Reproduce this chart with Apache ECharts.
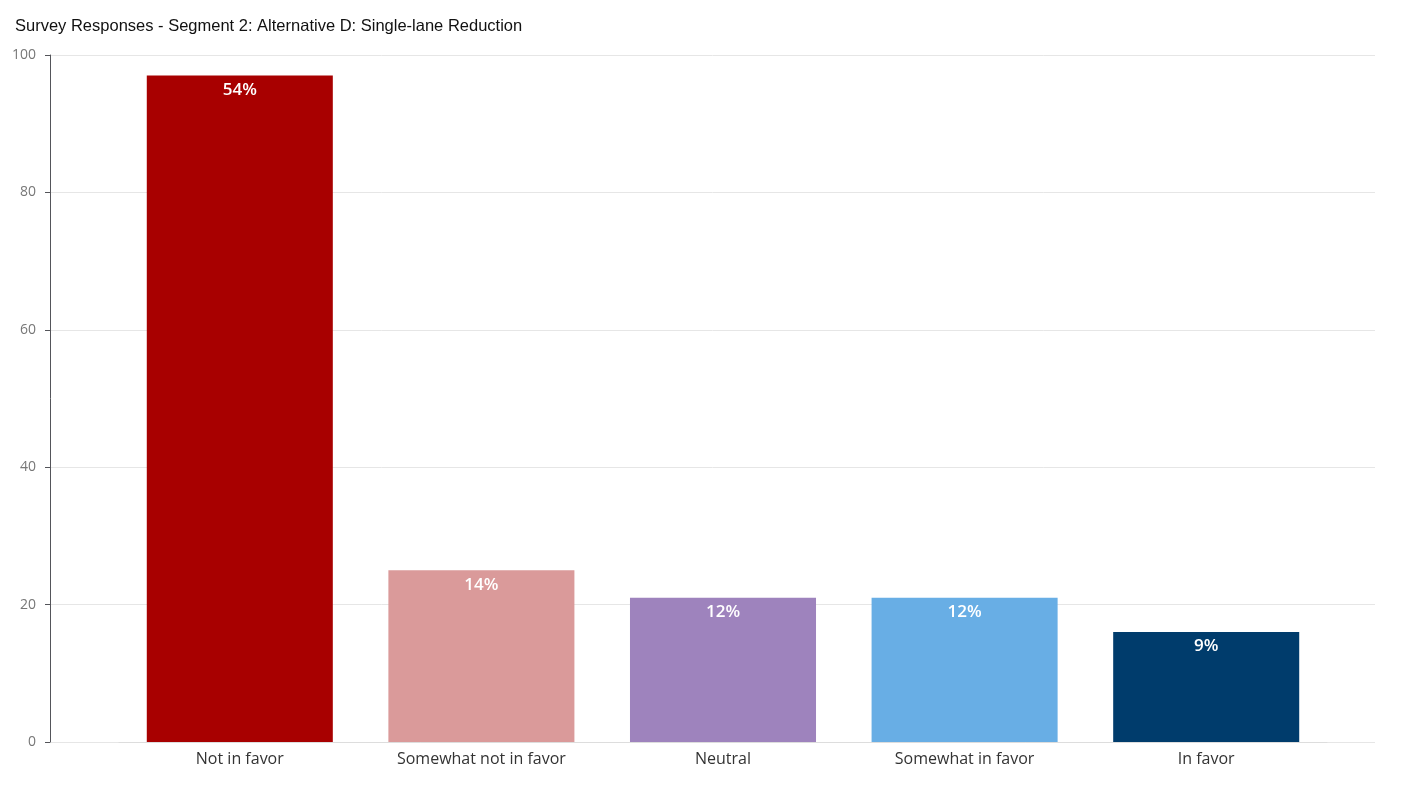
<!DOCTYPE html>
<html><head><meta charset="utf-8">
<script src="https://cdn.jsdelivr.net/npm/echarts@6/dist/echarts.min.js"></script>
<style>html,body{margin:0;padding:0;background:#fff}#c{width:1420px;height:799px}</style>
</head><body><div id="c"></div>
<script>
const categories = ["Not in favor","Somewhat not in favor","Neutral","Somewhat in favor","In favor"];
const values = [97,25,21,21,16];
const percentLabels = ["54%","14%","12%","12%","9%"];
const colors = ["#A80000","#DA9A9A","#9E83BD","#68AEE5","#003C6C"];
const chart = echarts.init(document.getElementById('c'));
chart.setOption({
  animation:false,
  title:{text:"Survey Responses - Segment 2: Alternative D: Single-lane Reduction",left:10,top:13,
    textStyle:{fontFamily:"Liberation Sans, Arial",fontSize:16.5,fontWeight:"normal",color:"#111"}},
  grid:[{left:50,right:45,top:55,bottom:57},{left:119,right:93,top:55,bottom:57}],
  xAxis:[
    {type:"value",gridIndex:0,min:0,max:1,show:false},
    {type:"category",gridIndex:1,data:categories,
    axisLine:{lineStyle:{color:"#ddd"}},axisTick:{show:false},
    axisLabel:{fontFamily:"Open Sans, Noto Sans",fontSize:16,color:"#333",margin:9}}],
  yAxis:[
    {type:"value",gridIndex:0,min:0,max:100,interval:20,
    splitLine:{lineStyle:{color:"#e6e6e6"}},
    axisLabel:{fontFamily:"Open Sans, Noto Sans",fontSize:14,color:"#777",margin:14}},
    {type:"value",gridIndex:1,min:0,max:100,interval:20,show:false,splitLine:{show:false}}],
  series:[{type:"bar",xAxisIndex:1,yAxisIndex:1,barWidth:"77%",
    data:values.map((v,i)=>({value:v,itemStyle:{color:colors[i]}})),
    label:{show:true,position:"insideTop",distance:6,color:"#fff",fontFamily:"Open Sans, Noto Sans",
      fontSize:17,fontWeight:600,formatter:p=>percentLabels[p.dataIndex]}}]
});
</script></body></html>
